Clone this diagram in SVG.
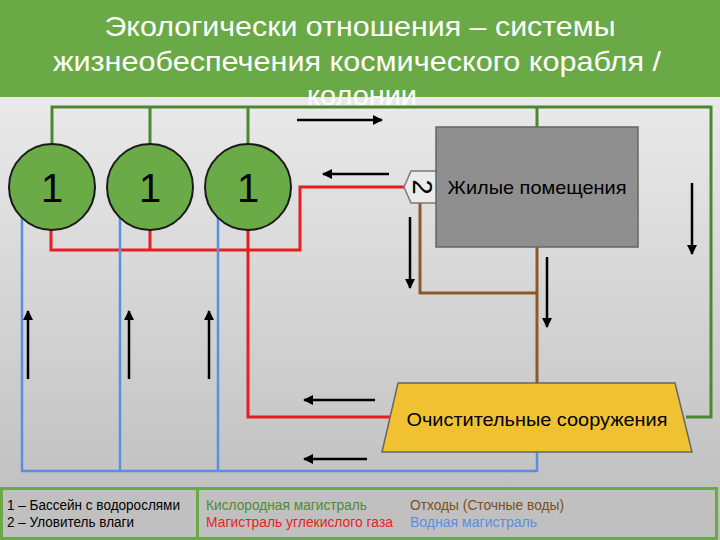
<svg xmlns="http://www.w3.org/2000/svg" width="720" height="540" viewBox="0 0 720 540">
<defs>
<linearGradient id="bg" x1="0" y1="0" x2="0" y2="1">
<stop offset="0" stop-color="#f4f4f4"/>
<stop offset="1" stop-color="#bcbcbc"/>
</linearGradient>
<marker id="ah" viewBox="0 0 10 10" refX="9" refY="5" markerWidth="4" markerHeight="4" orient="auto" markerUnits="strokeWidth">
<path d="M0,0 L10,5 L0,10 z" fill="#000"/>
</marker>
<style>
.t{font-family:"Liberation Sans",Arial,sans-serif}
.ox{stroke:#4a8a2e;stroke-width:3;fill:none}
.co{stroke:#e51f1f;stroke-width:3;fill:none}
.wa{stroke:#5b8ee0;stroke-width:2.5;fill:none}
.ws{stroke:#8b5a2b;stroke-width:3;fill:none}
.ar{stroke:#000;stroke-width:2.5;fill:none;marker-end:url(#ah)}
.pool{fill:#6aaa47;stroke:#1a1a1a;stroke-width:2}
</style>
</defs>
<rect x="0" y="0" width="720" height="540" fill="url(#bg)"/>
<rect x="0" y="0" width="720" height="97" fill="#6aaa46"/>
<g class="t" fill="#fff" font-size="28" text-anchor="middle" lengthAdjust="spacingAndGlyphs">
<text x="360" y="36" textLength="511" lengthAdjust="spacingAndGlyphs">Экологически отношения – системы</text>
<text x="357" y="70.5" textLength="608" lengthAdjust="spacingAndGlyphs">жизнеобеспечения космического корабля /</text>
<text x="362" y="105" textLength="110" lengthAdjust="spacingAndGlyphs">колонии</text>
</g>
<g id="connectors">
<path class="ox" d="M52,144 V107 H711 V417 H686"/>
<path class="ox" d="M150,144 V107"/>
<path class="ox" d="M248,144 V107"/>
<path class="ox" d="M537,107 V127"/>
<path class="co" d="M404,187 H300 V250 H51 V230"/>
<path class="co" d="M150,230 V250"/>
<path class="co" d="M248,230 V417 H390"/>
<path class="ws" d="M420,203 V293 H537"/>
<path class="ws" d="M537,247 V383"/>
<path class="wa" d="M22,215 V471 H537 V452"/>
<path class="wa" d="M120,215 V471"/>
<path class="wa" d="M218,215 V471"/>
<path class="ar" d="M297,120 H382"/>
<path class="ar" d="M389,174 H323"/>
<path class="ar" d="M410,217 V288"/>
<path class="ar" d="M692,183 V254"/>
<path class="ar" d="M547,257 V327"/>
<path class="ar" d="M28,379 V311"/>
<path class="ar" d="M129,379 V311"/>
<path class="ar" d="M209,379 V311"/>
<path class="ar" d="M375,400 H304"/>
<path class="ar" d="M367,459 H304"/>
</g>
<g id="pool1"><circle class="pool" cx="52" cy="187" r="43"/><text class="t" x="52" y="202" font-size="40" text-anchor="middle">1</text></g>
<g id="pool2"><circle class="pool" cx="150" cy="187" r="43"/><text class="t" x="150" y="202" font-size="40" text-anchor="middle">1</text></g>
<g id="pool3"><circle class="pool" cx="248" cy="187" r="43"/><text class="t" x="248" y="202" font-size="40" text-anchor="middle">1</text></g>
<g id="trap"><path d="M404,187 L411,171 L440,171 L440,203 L411,203 Z" fill="#ebebeb" stroke="#7a7a7a" stroke-width="1.5"/><text class="t" x="0" y="0" font-size="27" text-anchor="middle" transform="translate(413,187) rotate(90)">2</text></g>
<g id="living"><rect x="436" y="127" width="202" height="120" fill="#8f8f8f" stroke="#666" stroke-width="1.5"/><text class="t" x="537" y="194" font-size="19" text-anchor="middle" textLength="179" lengthAdjust="spacingAndGlyphs">Жилые помещения</text></g>
<g id="treatment"><path d="M398,383 L675,383 L692,452 L382,452 Z" fill="#f0c232" stroke="#666" stroke-width="1.5"/><text class="t" x="537" y="426" font-size="19" text-anchor="middle" textLength="261" lengthAdjust="spacingAndGlyphs">Очистительные сооружения</text></g>
<g id="legend">
<rect x="1.5" y="488.5" width="196" height="50" fill="#c0c0c0" stroke="#6aaa46" stroke-width="3"/>
<rect x="197.5" y="488.5" width="519" height="50" fill="#c0c0c0" stroke="#6aaa46" stroke-width="3"/>
<g class="t" font-size="14">
<text x="7" y="510" textLength="173" lengthAdjust="spacingAndGlyphs">1 – Бассейн с водорослями</text>
<text x="7" y="527" textLength="127" lengthAdjust="spacingAndGlyphs">2 – Уловитель влаги</text>
<text x="206" y="510" fill="#4e8a33" textLength="161" lengthAdjust="spacingAndGlyphs">Кислородная магистраль</text>
<text x="206" y="527" fill="#e51f1f" textLength="187" lengthAdjust="spacingAndGlyphs">Магистраль углекислого газа</text>
<text x="410" y="510" fill="#7a4f22" textLength="154" lengthAdjust="spacingAndGlyphs">Отходы (Сточные воды)</text>
<text x="410" y="527" fill="#5b8ee0" textLength="127" lengthAdjust="spacingAndGlyphs">Водная магистраль</text>
</g>
</g>
</svg>
